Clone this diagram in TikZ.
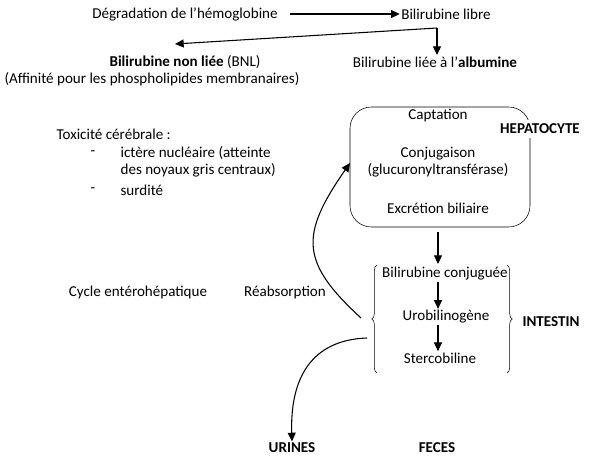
\documentclass[tikz,border=0pt]{standalone}
\usepackage{fontspec}
\setmainfont{Carlito}
\usepackage{tikz}
\usetikzlibrary{decorations.pathreplacing, arrows.meta}

\tikzset{lbl/.style={font=\fontsize{11.3}{13}\selectfont, inner sep=1pt},
         bold lbl/.style={lbl, font=\fontsize{11.3}{13}\selectfont\bfseries}}

\begin{document}
\begin{tikzpicture}[x=0.75pt, y=-0.75pt, >={Triangle[length=6.5pt, width=6pt]}]
                \useasboundingbox (0,0) rectangle (600,463);

                \node[lbl] (deg) at (185,14) {Dégradation de l’hémoglobine};
                \node[lbl] (libre) at (446,14) {Bilirubine libre};
                \node[lbl] (bnl) at (185,62) {\textbf{Bilirubine non liée} (BNL)};
                \node[lbl] (aff) at (152,79) {(Affinité pour les phospholipides membranaires)};
                \node[lbl] (alb) at (435,62) {Bilirubine liée à l’\textbf{albumine}};

                \draw[->, thick] (290,14) -- (libre.west);
                \coordinate (split) at (437,28);
                \draw[->, thick] (split) -- (175,44);
                \draw[->, thick] (split) -- (alb.north -| split);

                \node[lbl, anchor=west] (tox) at (55,134) {Toxicité cérébrale :};
                \node[lbl] at (93,153) {-};
                \node[lbl] at (93,190) {-};
                \node[lbl, anchor=west, align=left] (ict) at (119,162) {ictère nucléaire (atteinte\\des noyaux gris centraux)};
                \node[lbl, anchor=west] (surd) at (119,190) {surdité};

                \draw[rounded corners=16pt] (350,107) rectangle (530,227);
                \coordinate (hepL) at (350,163);
                \node[lbl] (capt) at (438,116) {Captation};
                \node[lbl, align=center] (conj) at (438,162) {Conjugaison\\(glucuronyltransférase)};
                \node[lbl] (excr) at (438,208) {Excrétion biliaire};
                \node[bold lbl, fill=white, inner sep=3pt] (hepLabel) at (540,129) {HEPATOCYTE};

                \draw[->, thick] (438,232) -- (438,264);

                \node[lbl] (bconj) at (445,274) {Bilirubine conjuguée};
                \node[lbl] (uro) at (446,317) {Urobilinogène};
                \node[lbl] (sterco) at (440,358) {Stercobiline};
                \draw[->, thick] (438,282) -- (uro.north -| 438,0);
                \draw[->, thick] (438,325) -- (sterco.north -| 438,0);
                \draw[decorate, decoration={brace, amplitude=4pt}] (377,373) -- (377,265);
                \draw[decorate, decoration={brace, amplitude=4pt}] (507,265) -- (507,373);
                \node[bold lbl] (intLabel) at (551,322) {INTESTIN};

                \node[lbl] (cycle) at (138,292) {Cycle entérohépatique};
                \node[lbl] (reab) at (285,292) {Réabsorption};

                \draw[->, thick] (361,318) .. controls (300,262) and (300,235) .. (hepL);
                \node[bold lbl] (urines) at (292,448) {URINES};
                \node[bold lbl] (feces) at (437,448) {FECES};
                \draw[->, thick] (367,338) .. controls (310,340) and (290,380) .. (urines.north);
\end{tikzpicture}
\end{document}
